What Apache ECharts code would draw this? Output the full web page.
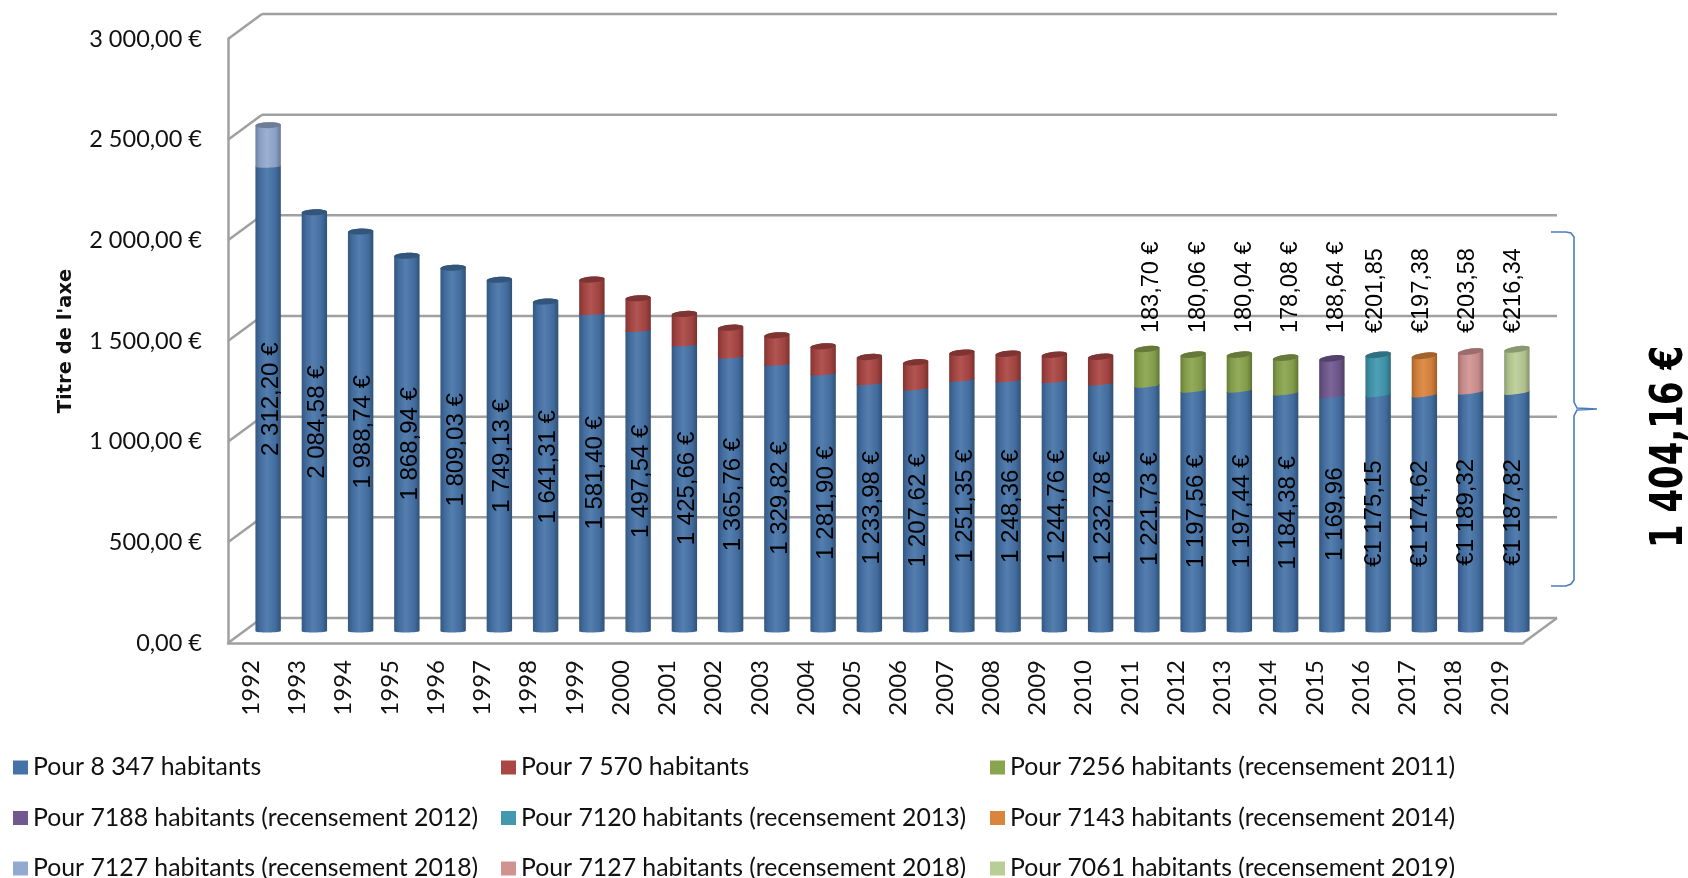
<!DOCTYPE html>
<html>
<head>
<meta charset="utf-8">
<title>Titre de l'axe</title>
<style>
  html, body { margin: 0; padding: 0; background: #fff; }
  #chart { width: 1688px; height: 878px; }
</style>
<script src="https://cdn.jsdelivr.net/npm/echarts@6/dist/echarts.min.js"></script>
</head>
<body>
<div id="chart"></div>
<script>
var years = ["1992","1993","1994","1995","1996","1997","1998","1999","2000","2001",
  "2002","2003","2004","2005","2006","2007","2008","2009","2010","2011",
  "2012","2013","2014","2015","2016","2017","2018","2019"];

var yTicks = [0, 500, 1000, 1500, 2000, 2500, 3000];
var yTickLabels = ["0,00 €", "500,00 €", "1 000,00 €", "1 500,00 €", "2 000,00 €", "2 500,00 €", "3 000,00 €"];

// one value per year, null where the series has no bar
var pour8347 = [2312.20, 2084.58, 1988.74, 1868.94, 1809.03, 1749.13, 1641.31, 1581.40, 1497.54, 1425.66,
  1365.76, 1329.82, 1281.90, 1233.98, 1207.62, 1251.35, 1248.36, 1244.76, 1232.78, 1221.73,
  1197.56, 1197.44, 1184.38, 1169.96, 1175.15, 1174.62, 1189.32, 1187.82];
var pour7570 = [null, null, null, null, null, null, null, 169, 160, 154,
  146, 144, 137, 132, 132, 136, 134, 132, 134, null,
  null, null, null, null, null, null, null, null];
var pour7256 = [null, null, null, null, null, null, null, null, null, null,
  null, null, null, null, null, null, null, null, null, 183.70,
  180.06, 180.04, 178.08, null, null, null, null, null];
var pour7188 = [null, null, null, null, null, null, null, null, null, null,
  null, null, null, null, null, null, null, null, null, null,
  null, null, null, 188.64, null, null, null, null];
var pour7120 = [null, null, null, null, null, null, null, null, null, null,
  null, null, null, null, null, null, null, null, null, null,
  null, null, null, null, 201.85, null, null, null];
var pour7143 = [null, null, null, null, null, null, null, null, null, null,
  null, null, null, null, null, null, null, null, null, null,
  null, null, null, null, null, 197.38, null, null];
var pour7127a = [205, null, null, null, null, null, null, null, null, null,
  null, null, null, null, null, null, null, null, null, null,
  null, null, null, null, null, null, null, null];
var pour7127b = [null, null, null, null, null, null, null, null, null, null,
  null, null, null, null, null, null, null, null, null, null,
  null, null, null, null, null, null, 203.58, null];
var pour7061 = [null, null, null, null, null, null, null, null, null, null,
  null, null, null, null, null, null, null, null, null, null,
  null, null, null, null, null, null, null, 216.34];

var baseLabels = ["2 312,20 €", "2 084,58 €", "1 988,74 €", "1 868,94 €", "1 809,03 €", "1 749,13 €", "1 641,31 €",
  "1 581,40 €", "1 497,54 €", "1 425,66 €", "1 365,76 €", "1 329,82 €", "1 281,90 €", "1 233,98 €",
  "1 207,62 €", "1 251,35 €", "1 248,36 €", "1 244,76 €", "1 232,78 €", "1 221,73 €", "1 197,56 €",
  "1 197,44 €", "1 184,38 €", "1 169,96", "€1 175,15", "€1 174,62", "€1 189,32", "€1 187,82"];
var topLabels = ["183,70 €", "180,06 €", "180,04 €", "178,08 €", "188,64 €", "€201,85", "€197,38", "€203,58", "€216,34"];
var topLabelStart = 19; // first year that has a label over its bar

var names = ["Pour 8 347 habitants", "Pour 7 570 habitants", "Pour 7256 habitants (recensement 2011)",
  "Pour 7188 habitants (recensement 2012)", "Pour 7120 habitants (recensement 2013)", "Pour 7143 habitants (recensement 2014)",
  "Pour 7127 habitants (recensement 2018)", "Pour 7127 habitants (recensement 2018)", "Pour 7061 habitants (recensement 2019)"];
var colors = ["#4573a7", "#aa4643", "#89a54e", "#71588f", "#4198af", "#db843d", "#93a9cf", "#d19392", "#b9cd96"];
var values = [pour8347, pour7570, pour7256, pour7188, pour7120, pour7143, pour7127a, pour7127b, pour7061];

var myChart = echarts.init(document.getElementById("chart"));

var depthX = 34, depthY = 25;   // front plane to back wall
var barX = 17, barY = 11;       // front plane to the plane the cylinders stand on
var barR = 12.7, capR = 3;
var labelFont = '"Liberation Sans", sans-serif';

function shade(hex, f) {
  var n = parseInt(hex.slice(1), 16);
  var c = [n >> 16, (n >> 8) & 255, n & 255].map(function (v) {
    return Math.round(f > 1 ? v + (255 - v) * (f - 1) : v * f);
  });
  return "rgb(" + c.join(",") + ")";
}

function arc(cx, cy, ry, tilt, from, to) {
  var pts = [];
  for (var k = 0; k <= 16; k++) {
    var a = from + (to - from) * k / 16;
    var dx = barR * Math.cos(a);
    pts.push([cx + dx, cy + ry * Math.sin(a) - tilt * dx]);
  }
  return pts;
}

function bodyFill(color) {
  return {
    type: "linear", x: 0, y: 0, x2: 1, y2: 0,
    colorStops: [
      { offset: 0, color: shade(color, 0.76) },
      { offset: 0.18, color: shade(color, 0.94) },
      { offset: 0.45, color: shade(color, 1.08) },
      { offset: 0.8, color: shade(color, 0.94) },
      { offset: 1, color: shade(color, 0.7) }
    ]
  };
}

function cylinder(color, isBase) {
  return function (params, api) {
    var i = api.value(0), from = api.value(2), to = from + api.value(1);
    var cx = api.coord([i, 0])[0] + barX;
    var y0 = api.coord([i, from])[1] - barY;
    var y1 = api.coord([i, to])[1] - barY;
    var tilt = 0.03 + i * 0.004;
    var lower = isBase ? arc(cx, y0 - 1, 1.5, 0.01, Math.PI, 0) : arc(cx, y0, 1.2, tilt, Math.PI, 0);
    // the side runs up to the back edge of the top ellipse, the cap or next piece covers it
    var side = lower.concat(arc(cx, y1, capR, tilt, 0, -Math.PI));
    var kids = [
      { type: "polygon", shape: { points: side }, style: { fill: bodyFill(color) } }
    ];
    if (!isBase || !hasUpper(i)) {
      kids.push({
        type: "polygon",
        shape: { points: arc(cx, y1, capR, tilt, 0, Math.PI * 2) },
        style: { fill: shade(color, 0.74) }
      });
    }
    if (isBase) {
      var shift = baseLabels[i].charAt(0) === "€" ? -4 : 3;
      kids.push({
        type: "text",
        x: cx + shift, y: (y0 + y1) / 2, rotation: Math.PI / 2, z2: 5,
        style: { text: baseLabels[i], font: "24px " + labelFont, fill: "#000", align: "center", verticalAlign: "middle" }
      });
    }
    if (i >= topLabelStart && !isBase) {
      var txt = topLabels[i - topLabelStart];
      kids.push({
        type: "text",
        x: cx + (txt.charAt(0) === "€" ? -3 : 5), y: api.coord([i, 1485])[1] - barY, rotation: Math.PI / 2, z2: 5,
        style: { text: txt, font: "23.5px " + labelFont, fill: "#000", align: "left", verticalAlign: "middle" }
      });
    }
    return { type: "group", children: kids };
  };
}

function hasUpper(i) {
  return values.slice(1).some(function (s) { return s[i] != null; });
}

function renderFrame(params, api) {
  var box = params.coordSys;
  var y = api.coord([0, api.value(0)])[1];
  var line = { stroke: "#a0a0a0", lineWidth: 2.5 };
  var kids = [
    { type: "line", shape: { x1: box.x, y1: y, x2: box.x + depthX, y2: y - depthY }, style: line },
    { type: "line", shape: { x1: box.x + depthX, y1: y - depthY, x2: box.x + box.width + depthX, y2: y - depthY }, style: line }
  ];
  if (api.value(0) === 0) {
    kids.push({ type: "line", shape: { x1: box.x + box.width, y1: y, x2: box.x + box.width + depthX, y2: y - depthY }, style: line });
  }
  return { type: "group", children: kids };
}

var series = [{
  type: "custom",
  name: "frame",
  z: 1,
  silent: true,
  coordinateSystem: "cartesian2d",
  encode: { y: 0 },
  data: yTicks.map(function (v) { return [v]; }),
  renderItem: renderFrame
}];

values.forEach(function (list, s) {
  var rows = [];
  list.forEach(function (v, i) {
    if (v == null) return;
    rows.push([i, v, s === 0 ? 0 : pour8347[i]]);
  });
  series.push({
    type: "custom",
    name: names[s],
    z: 2 + s,
    coordinateSystem: "cartesian2d",
    itemStyle: { color: colors[s] },
    encode: { x: 0, y: 1 },
    data: rows,
    renderItem: cylinder(colors[s], s === 0)
  });
});

function legendColumn(left, idx) {
  return {
    orient: "vertical",
    left: left,
    top: 755,
    height: 170,
    padding: 0,
    itemWidth: 15,
    itemHeight: 14,
    itemGap: 25.5,
    icon: "rect",
    selectedMode: false,
    textStyle: { fontFamily: "Lato", fontSize: 24.8, color: "#111" },
    data: idx.map(function (k) {
      return { name: names[k], itemStyle: { color: colors[k] } };
    })
  };
}

var option = {
  backgroundColor: "#fff",
  animation: false,
  grid: { left: 228, top: 39, width: 1295, height: 604, containLabel: false },
  legend: [legendColumn(13, [0, 3, 6]), legendColumn(501, [1, 4, 7]), legendColumn(990, [2, 5, 8])],
  xAxis: {
    type: "category",
    data: years,
    axisLine: { lineStyle: { color: "#a0a0a0", width: 2.5 } },
    axisTick: { show: false },
    axisLabel: { rotate: 90, margin: 17, interval: 0, fontFamily: "Lato", fontSize: 24, color: "#111" }
  },
  yAxis: {
    type: "value",
    min: 0,
    max: 3000,
    interval: 500,
    name: "Titre de l'axe",
    nameLocation: "middle",
    nameRotate: 90,
    nameGap: 152,
    nameTextStyle: { fontFamily: "DejaVu Sans", fontWeight: "bold", fontSize: 19.5, color: "#111" },
    axisLine: { show: true, lineStyle: { color: "#a0a0a0", width: 2.5 } },
    axisTick: { show: false },
    splitLine: { show: false },
    axisLabel: {
      margin: 26,
      fontFamily: "Lato",
      fontSize: 23.5,
      color: "#111",
      formatter: function (v) { return yTickLabels[yTicks.indexOf(v)]; }
    }
  },
  series: series,
  graphic: [
    {
      type: "polyline",
      shape: {
        points: [[1551, 232], [1566, 232], [1571, 233], [1574, 237], [1574, 402], [1577, 408], [1597, 409],
          [1577, 410], [1574, 416], [1574, 580], [1571, 584], [1566, 586], [1551, 586]]
      },
      style: { stroke: "#4a7ebb", lineWidth: 1.6, fill: "none" }
    },
    {
      type: "text",
      x: 1671, y: 447,
      rotation: Math.PI / 2,
      scaleY: 1.3,
      style: {
        text: "1 404,16 €",
        font: 'bold 34px "DejaVu Sans"',
        fill: "#000",
        align: "center",
        verticalAlign: "middle"
      }
    }
  ]
};

myChart.setOption(option);
</script>
</body>
</html>
